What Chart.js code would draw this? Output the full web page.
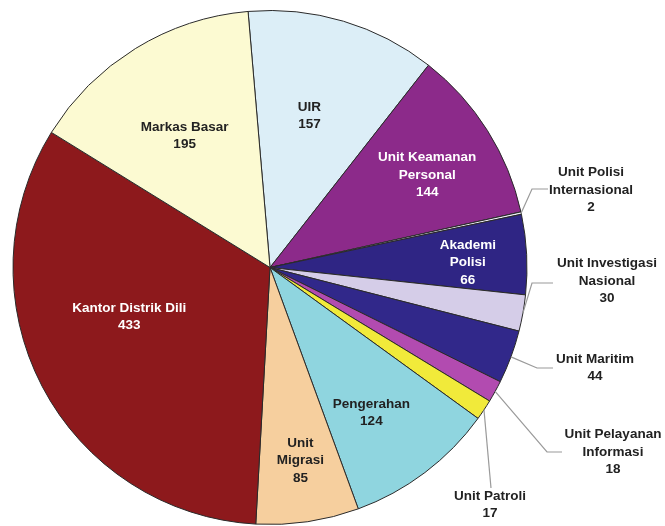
<!DOCTYPE html>
<html>
<head>
<meta charset="utf-8">
<script src="https://cdn.jsdelivr.net/npm/chart.js@4.4.0/dist/chart.umd.min.js"></script>
<style>
  html, body { margin: 0; padding: 0; background: #ffffff; }
  #wrap { width: 665px; height: 526px; position: relative; }
</style>
</head>
<body>
<div id="wrap"><canvas id="c" width="665" height="526"></canvas></div>
<script>
// ---- data (clockwise from the top) ----
const categories = [
  'UIR', 'Unit Keamanan Personal', 'Unit Polisi Internasional', 'Akademi Polisi',
  'Unit Investigasi Nasional', 'Unit Maritim', 'Unit Pelayanan Informasi', 'Unit Patroli',
  'Pengerahan', 'Unit Migrasi', 'Kantor Distrik Dili', 'Markas Basar'
];
const values = [157, 144, 2, 66, 30, 44, 18, 17, 124, 85, 433, 195];
const labelLines = [
  ['UIR'], ['Unit Keamanan', 'Personal'], ['Unit Polisi', 'Internasional'], ['Akademi', 'Polisi'],
  ['Unit Investigasi', 'Nasional'], ['Unit Maritim'], ['Unit Pelayanan', 'Informasi'], ['Unit Patroli'],
  ['Pengerahan'], ['Unit', 'Migrasi'], ['Kantor Distrik Dili'], ['Markas Basar']
];

// ---- styles ----
const colors = [
  '#dceef7', '#8c2a8a', '#ecebf4', '#2f2584', '#d5cde8', '#31288a',
  '#b24bb0', '#f1ea3a', '#8fd5df', '#f6cf9e', '#8d191c', '#fcfad2'
];
const textColors = ['#222', '#fff', '#222', '#fff', '#222', '#222', '#222', '#222', '#222', '#222', '#fff', '#222'];
// inner placement: [angle offset (deg), radius fraction]  |  outer: {tx, ty, elbow:[x,y], end:[x,y]}
const placement = [
  {a: -2, r: 0.61}, {a: 1.7, r: 0.71},
  {outer: true, tx: 591, ty: 190, elbow: [532, 189], end: [548, 189]},
  {a: 1.5, r: 0.77},
  {outer: true, tx: 607, ty: 281, elbow: [532, 283], end: [553, 283]},
  {outer: true, tx: 595, ty: 368, elbow: [537, 368], end: [553, 368]},
  {outer: true, tx: 613, ty: 452, elbow: [547, 452], end: [562, 452]},
  {outer: true, tx: 490, ty: 505, elbow: [491, 488], end: [491, 488]},
  {a: 2.2, r: 0.69}, {a: -0.5, r: 0.76}, {a: 8.2, r: 0.58}, {a: -1.4, r: 0.61}
];

const labelPlugin = {
  id: 'sliceLabels',
  afterDatasetsDraw(chart) {
    const ctx = chart.ctx;
    const meta = chart.getDatasetMeta(0);
    const lh = 17.5;
    ctx.save();
    ctx.font = 'bold 13.5px "Liberation Sans", Arial, sans-serif';
    ctx.textAlign = 'center';
    ctx.textBaseline = 'middle';
    meta.data.forEach((arc, i) => {
      const p = placement[i];
      const cx = arc.x, cy = arc.y, R = arc.outerRadius;
      const mid = (arc.startAngle + arc.endAngle) / 2;
      const lines = labelLines[i].concat([String(values[i])]);
      let tx, ty, col;
      if (p.outer) {
        const ex = cx + R * Math.cos(mid), ey = cy + R * Math.sin(mid);
        ctx.strokeStyle = '#9a9a9a';
        ctx.lineWidth = 1.2;
        ctx.beginPath();
        ctx.moveTo(ex, ey);
        ctx.lineTo(p.elbow[0], p.elbow[1]);
        ctx.lineTo(p.end[0], p.end[1]);
        ctx.stroke();
        tx = p.tx; ty = p.ty; col = '#222';
      } else {
        const ang = mid + p.a * Math.PI / 180;
        tx = cx + R * p.r * Math.cos(ang);
        ty = cy + R * p.r * Math.sin(ang);
        col = textColors[i];
      }
      ctx.fillStyle = col;
      const y0 = ty - (lines.length - 1) * lh / 2;
      lines.forEach((ln, k) => ctx.fillText(ln, tx, y0 + k * lh));
    });
    ctx.restore();
  }
};

new Chart(document.getElementById('c'), {
  type: 'pie',
  data: {
    labels: categories,
    datasets: [{
      data: values,
      backgroundColor: colors,
      borderColor: '#2a2a2a',
      borderWidth: 1,
      hoverOffset: 0,
      offset: 0
    }]
  },
  options: {
    responsive: false,
    animation: false,
    rotation: -4.9,
    layout: { padding: { left: 12, right: 137, top: 10, bottom: 1 } },
    plugins: {
      legend: { display: false },
      tooltip: { enabled: false }
    },
    events: []
  },
  plugins: [labelPlugin]
});
</script>
</body>
</html>
